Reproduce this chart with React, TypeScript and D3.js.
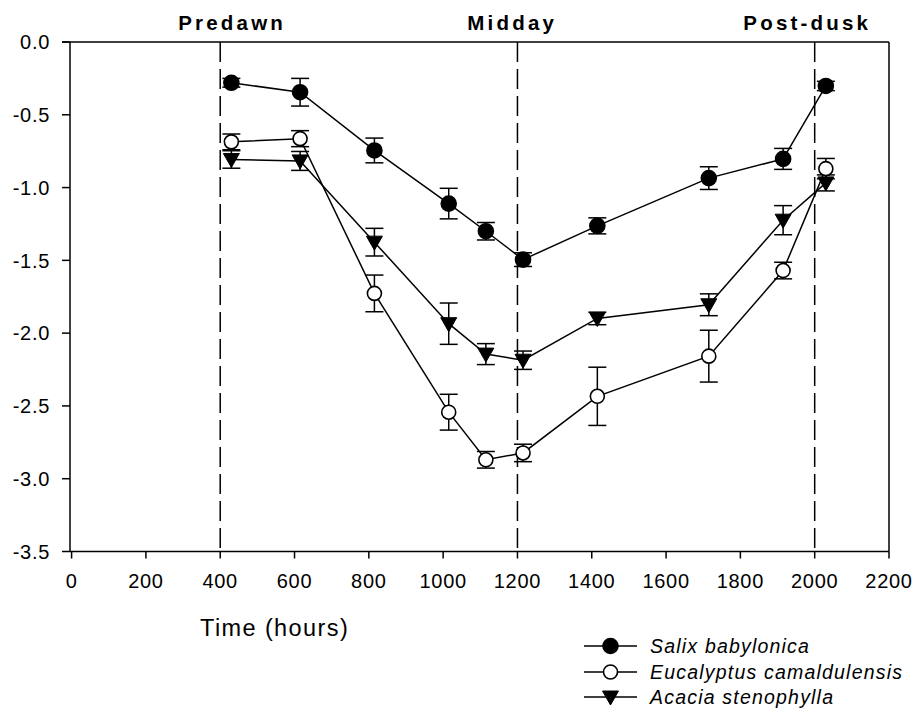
import React from "react";
import * as d3 from "d3";

// Sampling times (hours) and mean leaf water potential (MPa) ± SE per species
const times = [430, 615, 815, 1015, 1115, 1215, 1415, 1715, 1915, 2030];
const salix = [-0.28, -0.345, -0.745, -1.11, -1.3, -1.495, -1.263, -0.935, -0.803, -0.302];
const salixErr = [0.03, 0.095, 0.085, 0.105, 0.06, 0.047, 0.055, 0.078, 0.072, 0.032];
const eucalyptus = [-0.686, -0.664, -1.727, -2.543, -2.87, -2.823, -2.434, -2.158, -1.57, -0.87];
const eucalyptusErr = [0.054, 0.055, 0.126, 0.123, 0.057, 0.06, 0.2, 0.178, 0.057, 0.07];
const acacia = [-0.807, -0.817, -1.375, -1.935, -2.144, -2.186, -1.899, -1.805, -1.224, -0.968];
const acaciaErr = [0.06, 0.065, 0.095, 0.142, 0.072, 0.063, 0.043, 0.075, 0.1, 0.055];

const seriesNames = ["Salix babylonica", "Eucalyptus camaldulensis", "Acacia stenophylla"];
const xTicks = [0, 200, 400, 600, 800, 1000, 1200, 1400, 1600, 1800, 2000, 2200];
const yTicks = [0, -0.5, -1, -1.5, -2, -2.5, -3, -3.5];
const periodLines = [400, 1200, 2000];
const periodLabels = [
  { text: "Predawn", t: 432 },
  { text: "Midday", t: 1186 },
  { text: "Post-dusk", t: 1980 },
];

const FONT = "'Liberation Sans', Arial, Helvetica, sans-serif";

type Marker = "filled" | "open" | "triangle";

function MarkerShape({ kind, x, y }: { kind: Marker; x: number; y: number }) {
  if (kind === "triangle") {
    const tri = d3.line()([
      [x - 8, y - 6],
      [x + 8, y - 6],
      [x, y + 8],
    ]);
    return <path d={tri + "Z"} fill="#000" stroke="#000" strokeWidth={1} />;
  }
  return (
    <circle
      cx={x}
      cy={y}
      r={kind === "filled" ? 7.5 : 7}
      fill={kind === "filled" ? "#000" : "#fff"}
      stroke="#000"
      strokeWidth={1.6}
    />
  );
}

export default function App() {
  const left = 70;
  const right = 889;
  const top = 42;
  const bottom = 551.5;

  const x = d3.scaleLinear().domain([0, 2200]).range([71.6, right]);
  const y = d3.scaleLinear().domain([0, -3.5]).range([top, bottom]);

  const series: { name: string; vals: number[]; errs: number[]; kind: Marker }[] = [
    { name: seriesNames[0], vals: salix, errs: salixErr, kind: "filled" },
    { name: seriesNames[1], vals: eucalyptus, errs: eucalyptusErr, kind: "open" },
    { name: seriesNames[2], vals: acacia, errs: acaciaErr, kind: "triangle" },
  ];

  const lineGen = d3
    .line<number>()
    .x((_, i) => x(times[i]))
    .y((v) => y(v));

  const legendX0 = 584;
  const legendX1 = 637;
  const legendRows = [646, 672, 697];

  return (
    <svg
      width={914}
      height={711}
      style={{ position: "absolute", left: 0, top: 0, background: "#fff" }}
      fontFamily={FONT}
    >
      <rect width={914} height={711} fill="#fff" />

      {/* period markers */}
      {periodLines.map((t) => (
        <line
          key={t}
          x1={x(t)}
          x2={x(t)}
          y1={top}
          y2={bottom}
          stroke="#000"
          strokeWidth={1.5}
          strokeDasharray="20 7"
        />
      ))}
      {periodLabels.map((p) => (
        <text
          key={p.text}
          x={x(p.t)}
          y={30}
          textAnchor="middle"
          fontSize={20.5}
          fontWeight="bold"
          letterSpacing={3.2}
        >
          {p.text}
        </text>
      ))}

      {/* frame and axes */}
      <line x1={left - 8} x2={right} y1={top} y2={top} stroke="#000" strokeWidth={1.5} />
      <line x1={right} x2={right} y1={top} y2={bottom} stroke="#000" strokeWidth={1.5} />
      <line x1={left} x2={left} y1={top} y2={bottom} stroke="#000" strokeWidth={1.5} />
      <line x1={left} x2={right} y1={bottom} y2={bottom} stroke="#000" strokeWidth={1.5} />

      {yTicks.map((v) => (
        <g key={v}>
          <line x1={left - 8} x2={left} y1={y(v)} y2={y(v)} stroke="#000" strokeWidth={1.5} />
          <text
            x={50}
            y={y(v)}
            dy="0.36em"
            textAnchor="end"
            fontSize={20}
            letterSpacing={0.7}
          >
            {v.toFixed(1)}
          </text>
        </g>
      ))}

      {xTicks.map((t) => (
        <g key={t}>
          <line x1={x(t)} x2={x(t)} y1={bottom} y2={bottom + 7} stroke="#000" strokeWidth={1.5} />
          <text x={x(t)} y={588} textAnchor="middle" fontSize={20} letterSpacing={0.7}>
            {t}
          </text>
        </g>
      ))}

      <text x={200} y={636} fontSize={23.5} letterSpacing={1.4}>
        Time (hours)
      </text>

      {/* series lines */}
      {series.map((s) => (
        <path key={s.name + "-line"} d={lineGen(s.vals) || ""} fill="none" stroke="#000" strokeWidth={1.5} />
      ))}

      {/* error bars */}
      {series.map((s) =>
        s.vals.map((v, i) => {
          const cx = x(times[i]);
          const y1 = y(v + s.errs[i]);
          const y2 = y(v - s.errs[i]);
          return (
            <g key={s.name + "-err-" + i} stroke="#000" strokeWidth={1.5}>
              <line x1={cx} x2={cx} y1={y1} y2={y2} />
              <line x1={cx - 9} x2={cx + 9} y1={y1} y2={y1} />
              <line x1={cx - 9} x2={cx + 9} y1={y2} y2={y2} />
            </g>
          );
        })
      )}

      {/* markers */}
      {series.map((s) =>
        s.vals.map((v, i) => <MarkerShape key={s.name + "-m-" + i} kind={s.kind} x={x(times[i])} y={y(v)} />)
      )}

      {/* legend */}
      {series.map((s, i) => (
        <g key={s.name + "-legend"}>
          <line x1={legendX0} x2={legendX1} y1={legendRows[i]} y2={legendRows[i]} stroke="#000" strokeWidth={1.5} />
          <MarkerShape kind={s.kind} x={(legendX0 + legendX1) / 2} y={legendRows[i]} />
          <text
            x={650}
            y={legendRows[i]}
            dy="0.36em"
            fontSize={19.5}
            fontStyle="italic"
            letterSpacing={1.2}
          >
            {s.name}
          </text>
        </g>
      ))}
    </svg>
  );
}
